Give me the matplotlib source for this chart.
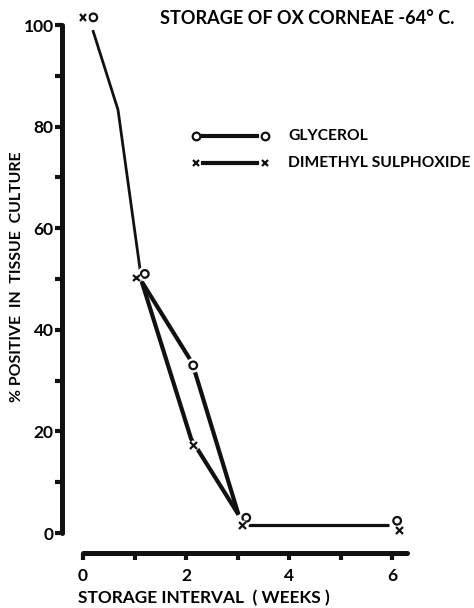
import numpy as np
import matplotlib
matplotlib.use("Agg")
import matplotlib.pyplot as plt
import matplotlib.patheffects as pe

plt.rcParams["font.family"] = ["Lato", "DejaVu Sans"]
INK = "#111111"

# --- data (weeks, % positive) ---
gly_weeks = [0.2, 1.2, 2.14, 3.17, 6.1]
gly_pct = [101.5, 51.0, 33.0, 3.0, 2.4]
dmso_weeks = [0.0, 1.03, 2.14, 3.09, 6.14]
dmso_pct = [101.5, 50.2, 17.3, 1.4, 0.4]

# the hand-drawn curves joining the points
shared_weeks = [0.19, 0.68, 1.14]
shared_pct = [99.0, 83.3, 49.5]
gly_curve_weeks = [1.14, 2.12, 3.02]
gly_curve_pct = [49.5, 33.5, 3.6]
dmso_curve_weeks = [1.14, 2.10, 3.02]
dmso_curve_pct = [49.5, 18.5, 3.6]
tail_weeks = [3.21, 5.95]
tail_pct = [1.6, 1.6]

# pixel mapping of the reference: x = 83 + 51.5*w, y = 533 - 5.08*v
W, H = 474, 608
fig = plt.figure(figsize=(W / 100, H / 100), dpi=100)
ax = fig.add_axes([0, 0, 1, 1])
ax.set_xlim(-83 / 51.5, (W - 83) / 51.5)
ax.set_ylim((533 - H) / 5.08, 533 / 5.08)
ax.patch.set_alpha(0)

ax.plot(shared_weeks, shared_pct, color=INK, lw=2.0, solid_capstyle="butt")
ax.plot(gly_curve_weeks, gly_curve_pct, color=INK, lw=3.0, solid_capstyle="butt")
ax.plot(dmso_curve_weeks, dmso_curve_pct, color=INK, lw=3.0, solid_capstyle="butt")
ax.plot(tail_weeks, tail_pct, color=INK, lw=2.3, solid_capstyle="butt")

halo = [pe.withStroke(linewidth=5, foreground="white")]
ax.plot(gly_weeks, gly_pct, ls="none", marker="o", ms=5.5, mfc="white", mec=INK,
        mew=1.6, path_effects=halo, zorder=5)
ax.plot(dmso_weeks, dmso_pct, ls="none", marker="x", ms=5, mec=INK, mew=1.6,
        path_effects=halo, zorder=5)

# --- axes drawn as offset heavy lines ---
for sp in ("top", "right"):
    ax.spines[sp].set_visible(False)
ax.spines["left"].set_position(("data", (62 - 83) / 51.5))
ax.spines["left"].set_bounds(0, 100)
ax.spines["bottom"].set_position(("data", (533 - 553) / 5.08))
ax.spines["bottom"].set_bounds(0, (407 - 83) / 51.5)
for sp in ("left", "bottom"):
    ax.spines[sp].set_linewidth(3.6)
    ax.spines[sp].set_color(INK)
    ax.spines[sp].set_capstyle("round")

ax.set_yticks([0, 20, 40, 60, 80, 100])
ax.set_yticks([10, 30, 50, 70, 90], minor=True)
ax.set_xticks([0, 2, 4, 6])
ax.set_xticks([1, 3, 5], minor=True)
ax.tick_params(which="both", direction="out", length=5, width=3, color=INK)
ax.tick_params(axis="y", labelsize=12.5, pad=1)
ax.tick_params(axis="x", labelsize=12.5, pad=6)
for lab in ax.get_xticklabels() + ax.get_yticklabels():
    lab.set_fontweight("bold")

xl = ax.set_xlabel("STORAGE INTERVAL  ( WEEKS )", fontsize=12.5, fontweight="bold",
                   va="center")
ax.xaxis.set_label_coords(204 / W, 1 - 598 / H)
yl = ax.set_ylabel("% POSITIVE  IN  TISSUE  CULTURE", fontsize=11.5, fontweight="bold",
                   va="center")
ax.yaxis.set_label_coords(17 / W, 1 - 277 / H)

title = fig.text(160 / W, 1 - 19 / H, "STORAGE OF OX CORNEAE -64° C.", fontsize=12,
                 fontweight="bold", ha="left", va="center")

# --- key ---
keytexts = []
for yk, mk, name in [(136, "o", "GLYCEROL"), (163, "x", "DIMETHYL SULPHOXIDE")]:
    fy = 1 - yk / H
    fig.add_artist(plt.Line2D([203 / W, 257 / W], [fy, fy], color=INK, lw=3.0))
    fig.add_artist(plt.Line2D([196 / W, 265 / W], [fy, fy], ls="none", marker=mk,
                              ms=5.5 if mk == "o" else 5, mfc="white", mec=INK, mew=1.6))
    keytexts.append(fig.text(288 / W, fy, name, fontsize=11, fontweight="bold",
                             ha="left", va="center"))

# scale text sizes to the extents measured on the reference
r = fig.canvas.get_renderer()
def fit(t, px, vertical=False):
    bb = t.get_window_extent(r)
    size = bb.height if vertical else bb.width
    t.set_fontsize(t.get_fontsize() * px / size)
    return t.get_fontsize()

fit(title, 293)
fit(xl, 252)
fit(yl, 252, vertical=True)
ks = fit(keytexts[1], 182)
keytexts[0].set_fontsize(ks)

fig.savefig("out.png", dpi=100)
